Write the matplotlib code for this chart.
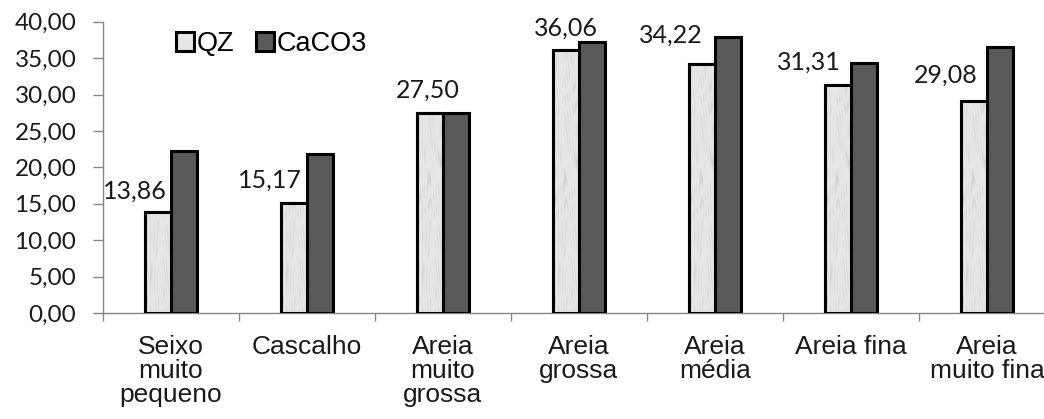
import matplotlib
matplotlib.use("Agg")
import matplotlib.pyplot as plt
import numpy as np

categories = ["Seixo\nmuito\npequeno", "Cascalho", "Areia\nmuito\ngrossa",
              "Areia\ngrossa", "Areia\nmédia", "Areia fina", "Areia\nmuito fina"]
qz = [13.86, 15.17, 27.50, 36.06, 34.22, 31.31, 29.08]
caco3 = [22.25, 21.85, 27.50, 37.27, 37.95, 34.40, 36.50]
yticks = [0, 5, 10, 15, 20, 25, 30, 35, 40]

# hand-placed data-label offsets (pixels) relative to the top of each QZ bar
label_dx = [-23, -24, -2, 0, -31, -29, -28]
label_dy = [14, 14.5, 15, 15, 21, 15, 19]

W, H = 1044, 419
fig = plt.figure(figsize=(W / 100, H / 100), dpi=100)
ax = fig.add_axes([103 / W, (H - 313) / H, 952 / W, 291.2 / H])

x = np.arange(len(categories))
bw = 0.19
edge_lw = 2.2
b1 = ax.bar(x - bw / 2, qz, bw, color="#e6e6e6", edgecolor="black", linewidth=edge_lw,
            label="QZ", zorder=3)
b2 = ax.bar(x + bw / 2, caco3, bw, color="#595959", edgecolor="black", linewidth=edge_lw,
            label="CaCO3", zorder=3)

# marble-like fill texture for the QZ bars
gx, gy = np.meshgrid(np.linspace(0, 1, 60), np.linspace(0, 1, 400))
veins = (np.sin(38 * gy + 9 * np.sin(7 * gx + 3 * gy) + 5 * gx) *
         np.sin(11 * gy - 6 * gx + 2.5 * np.sin(17 * gy)))
marble = 0.90 - 0.08 * np.clip(veins, 0, None) ** 2
for bar in b1:
    bx = bar.get_x()
    im = ax.imshow(marble, cmap="gray", vmin=0, vmax=1, aspect="auto",
                   extent=(bx, bx + bar.get_width(), 0, 40), origin="lower",
                   interpolation="bilinear", zorder=3.1)
    im.set_clip_path(bar)
    # re-draw the outline on top of the texture
    ax.bar(bar.get_x() + bar.get_width() / 2, bar.get_height(), bar.get_width(),
           fill=False, edgecolor="black", linewidth=edge_lw, zorder=3.2)

ax.set_xlim(-0.5, len(categories) - 0.5)
ax.set_ylim(0, 40)

ax.set_yticks(yticks)
ax.set_yticklabels([f"{v:.2f}".replace(".", ",") for v in yticks],
                   fontfamily="Lato", fontsize=17.5, color="#1a1a1a")
ax.tick_params(axis="y", direction="out", length=7.2, width=1, color="#868686", pad=12)

ax.set_xticks(x)
ax.set_xticklabels(categories, fontfamily="Liberation Sans", fontsize=19,
                   color="#1a1a1a", linespacing=1.0)
ax.tick_params(axis="x", length=0, pad=16)
ax.set_xticks(np.arange(len(categories) + 1) - 0.5, minor=True)
ax.tick_params(axis="x", which="minor", direction="out", length=6, width=1, color="#868686")

for s in ["top", "right"]:
    ax.spines[s].set_visible(False)
for s in ["left", "bottom"]:
    ax.spines[s].set_color("#868686")
    ax.spines[s].set_linewidth(1)

for xi, v, dx, dy in zip(x, qz, label_dx, label_dy):
    ax.annotate(f"{v:.2f}".replace(".", ","), xy=(xi - bw / 2, v),
                xytext=(dx * 0.72, dy * 0.72), textcoords="offset points",
                ha="center", va="baseline", fontfamily="Lato", fontsize=18,
                color="#1a1a1a")

leg = ax.legend(loc="upper left", bbox_to_anchor=(176 / W, (H - 31) / H),
                bbox_transform=fig.transFigure, ncol=2, frameon=False,
                prop={"family": "Liberation Sans", "size": 19.5},
                handlelength=0.65, handleheight=0.65, handletextpad=0.12,
                columnspacing=0.8, borderaxespad=0, borderpad=0)

fig.savefig("out.png", dpi=100)
